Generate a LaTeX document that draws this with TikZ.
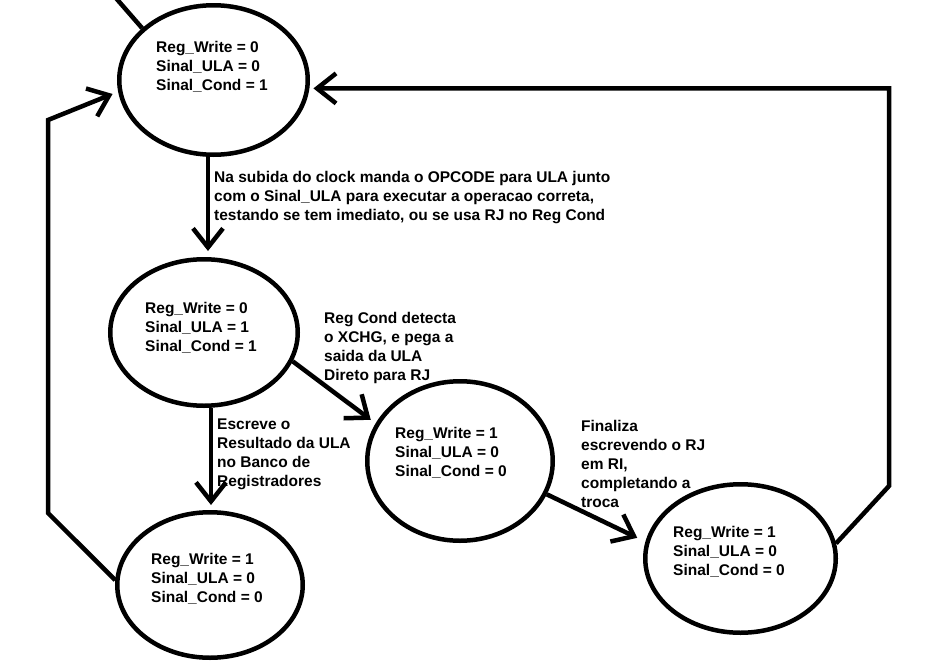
\documentclass[tikz,border=0pt]{standalone}
\usepackage{fontspec}
\setmainfont{Liberation Sans}
\usetikzlibrary{arrows.meta,shapes.geometric}
\begin{document}
\begin{tikzpicture}[x=1pt,y=-1pt,
  state/.style={draw=black, line width=4.5pt, ellipse, inner sep=0pt},
  txt/.style={anchor=base west, inner sep=0pt, align=left, font=\fontsize{15.5}{19}\selectfont\bfseries},
  conn/.style={line width=4.5pt},
  arr/.style={conn, -{Straight Barb[length=19pt,width=30pt]}}]
\useasboundingbox[fill=white] (0,0) rectangle (935,667);

% states
\node[state, minimum width=188.5pt, minimum height=149.5pt] (s1) at (213.5,80) {};
\node[state, minimum width=187.5pt, minimum height=146.5pt] (s2) at (204,332.5) {};
\node[state, minimum width=185.5pt, minimum height=159.5pt] (s3) at (460,461) {};
\node[state, minimum width=190.5pt, minimum height=148.5pt] (s4) at (740.5,558.5) {};
\node[state, minimum width=185.5pt, minimum height=145.5pt] (s5) at (210,585) {};

% state texts (anchor = baseline of the last line)
\node[txt] (t1) at (156,90.5) {Reg\_Write = 0\\Sinal\_ULA = 0\\Sinal\_Cond = 1};
\node[txt] (t2) at (145,351.5) {Reg\_Write = 0\\Sinal\_ULA = 1\\Sinal\_Cond = 1};
\node[txt] (t3) at (395,476.5) {Reg\_Write = 1\\Sinal\_ULA = 0\\Sinal\_Cond = 0};
\node[txt] (t4) at (673,575.5) {Reg\_Write = 1\\Sinal\_ULA = 0\\Sinal\_Cond = 0};
\node[txt] (t5) at (151,602.5) {Reg\_Write = 1\\Sinal\_ULA = 0\\Sinal\_Cond = 0};

% connector labels
\node[txt] (l1) at (214,220.5) {Na subida do clock manda o OPCODE para ULA junto\\com o Sinal\_ULA para executar a operacao correta,\\testando se tem imediato, ou se usa RJ no Reg Cond};
\node[txt] (l2) at (217,486) {Escreve o\\Resultado da ULA\\no Banco de\\Registradores};
\node[txt] (l3) at (324,380.5) {Reg Cond detecta\\o XCHG, e pega a\\saida da ULA\\Direto para RJ};
\node[txt] (l4) at (581,507.5) {Finaliza\\escrevendo o RJ\\em RI,\\completando a\\troca};

% helper coordinates
\coordinate (init) at (115,-3);
\coordinate (c5a) at (889,486);
\coordinate (c6a) at (48,513);
\coordinate (c6b) at (48,120);

% connectors
\draw[conn] (init) -- (s1.144);
\draw[arr, shorten >=6pt] ([xshift=-5.5pt]s1.south) -- ([xshift=-5.5pt]s1.south |- s2.north);
\draw[arr, shorten >=5pt] ([xshift=7pt]s2.south) -- ([xshift=7pt]s2.south |- s5.north);
\draw[arr, shorten >=6pt] (s2.-18) -- (s3.156.6);
\draw[arr, shorten >=9pt] (s3.-21) -- (s4.170);
\draw[arr, shorten >=4pt] (s4.9) -- (c5a) |- (s1.-5);
\draw[arr, shorten >=6pt] (s5.177) -- (c6a) -- (c6b) -- (s1.187);
\end{tikzpicture}
\end{document}
